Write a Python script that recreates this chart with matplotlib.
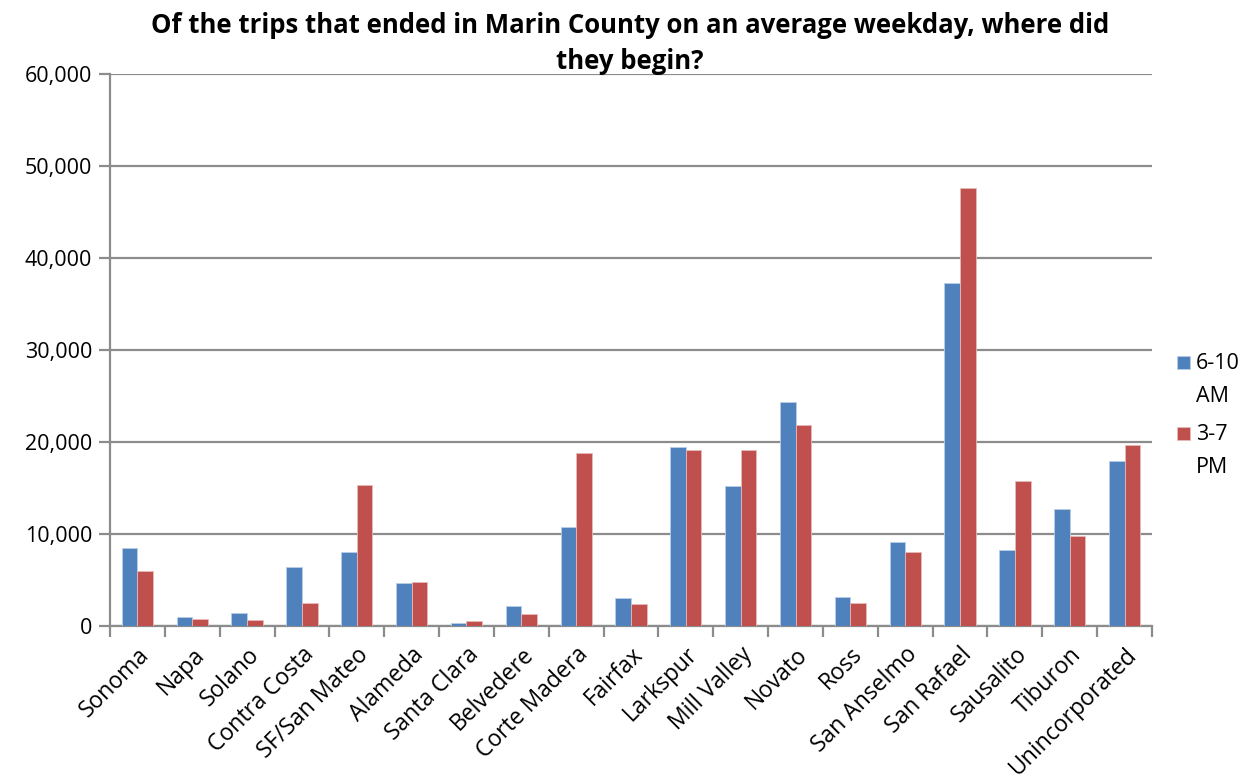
import matplotlib.pyplot as plt
import numpy as np
from matplotlib.ticker import FuncFormatter, FixedLocator

plt.rcParams['font.family'] = ['Open Sans', 'DejaVu Sans']

origins = ['Sonoma', 'Napa', 'Solano', 'Contra Costa', 'SF/San Mateo', 'Alameda',
           'Santa Clara', 'Belvedere', 'Corte Madera', 'Fairfax', 'Larkspur',
           'Mill Valley', 'Novato', 'Ross', 'San Anselmo', 'San Rafael',
           'Sausalito', 'Tiburon', 'Unincorporated']
am_trips = [8500, 1000, 1400, 6400, 8000, 4650, 300, 2150, 10800, 3050, 19500,
            15200, 24300, 3200, 9100, 37300, 8250, 12700, 17900]
pm_trips = [6000, 780, 650, 2550, 15300, 4780, 550, 1300, 18800, 2400, 19100,
            19100, 21900, 2550, 8050, 47600, 15750, 9800, 19700]
series_names = ['6-10\nAM', '3-7\nPM']

blue = '#4F81BD'
red = '#C0504D'
grid_grey = '#8C8C8C'

fig = plt.figure(figsize=(12.6, 7.82), dpi=100)
ax = fig.add_axes([0.0873, 0.1995, 0.827, 0.7059])

x = np.arange(len(origins))
w = 0.285
ax.bar(x - w / 2, am_trips, w, color=blue, edgecolor='#B9CDE5', linewidth=0.6,
       label=series_names[0], zorder=3)
ax.bar(x + w / 2, pm_trips, w, color=red, edgecolor='#E6B9B8', linewidth=0.6,
       label=series_names[1], zorder=3)

ax.set_xlim(-0.5, len(origins) - 0.5)
ax.set_ylim(0, 60000)
ax.set_yticks(np.arange(0, 60001, 10000))
ax.yaxis.set_major_formatter(FuncFormatter(lambda v, p: f'{int(v):,}'))
ax.yaxis.grid(True, color=grid_grey, linewidth=1.6, zorder=0)

# category labels centred, tick marks between categories
ax.set_xticks(x)
ax.set_xticklabels(origins, rotation=45, ha='right', rotation_mode='anchor',
                   fontsize=16.5)
ax.tick_params(axis='x', which='major', length=0, pad=12)
ax.xaxis.set_minor_locator(FixedLocator(np.arange(-0.5, len(origins), 1)))
ax.tick_params(axis='x', which='minor', length=8, width=1.6, color=grid_grey)
ax.tick_params(axis='y', length=8, width=1.6, color=grid_grey, labelsize=15.5, pad=5)

for side in ['top', 'right']:
    ax.spines[side].set_visible(False)
for side in ['left', 'bottom']:
    ax.spines[side].set_color(grid_grey)
    ax.spines[side].set_linewidth(1.6)

fig.text(0.5, 0.985, 'Of the trips that ended in Marin County on an average weekday, where did\nthey begin?',
         ha='center', va='top', fontsize=18.5, fontweight='bold', linespacing=1.45)

leg = ax.legend(loc='upper left', bbox_to_anchor=(1.016, 0.51), frameon=False,
                fontsize=15.5, handlelength=0.6, handleheight=0.6, handletextpad=0.25,
                labelspacing=0.8, borderaxespad=0)
for t in leg.get_texts():
    t.set_linespacing(1.75)
# put each colour swatch next to the first line of its label
for h in leg.legend_handles:
    h.set_y(h.get_y() + 13)

fig.savefig('out.png', dpi=100)
